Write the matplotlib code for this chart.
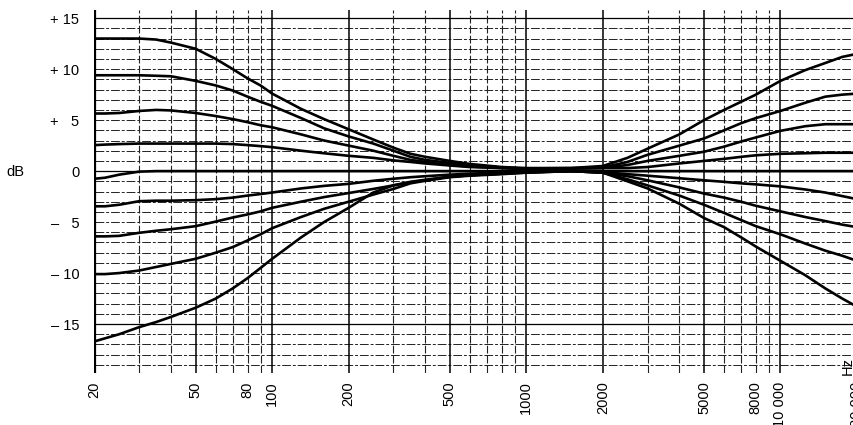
import numpy as np
import matplotlib
matplotlib.use("Agg")
import matplotlib.pyplot as plt
from matplotlib.ticker import NullLocator

plt.rcParams['font.family'] = ['Liberation Sans', 'DejaVu Sans']

# frequency points (Hz)
freq = [20, 22, 25, 30, 35, 40, 50, 60, 70, 80, 90, 100, 130, 160, 200, 250, 300, 350, 400,
        500, 600, 800, 1000, 1500, 2000, 2500, 3000, 4000, 5000, 6000, 7000, 8000, 10000,
        12500, 15000, 17500, 20000]

# level (dB) of each response curve, top to bottom at 20 Hz
bass13 = [13.0, 13.0, 13.0, 13.0, 12.9, 12.6, 12.0, 11.0, 10.0, 9.1, 8.4, 7.6, 6.1, 5.1, 4.1, 3.1,
          2.3, 1.7, 1.4, 1.0, 0.7, 0.4, 0.3, 0.3, 0.5, 1.3, 2.2, 3.6, 5.0, 6.0, 6.8, 7.5, 8.85,
          9.9, 10.6, 11.2, 11.5]
bass9 = [9.4, 9.4, 9.4, 9.4, 9.35, 9.3, 8.85, 8.4, 7.9, 7.3, 6.8, 6.4, 5.2, 4.2, 3.4, 2.7,
         2.0, 1.4, 1.1, 0.8, 0.6, 0.35, 0.25, 0.3, 0.35, 0.9, 1.6, 2.5, 3.2, 4.0, 4.7, 5.2, 5.9,
         6.7, 7.3, 7.5, 7.6]
bass6 = [5.65, 5.65, 5.7, 5.9, 6.0, 5.95, 5.7, 5.4, 5.1, 4.8, 4.5, 4.3, 3.6, 3.0, 2.5, 2.0,
         1.5, 1.1, 0.9, 0.6, 0.45, 0.3, 0.2, 0.25, 0.3, 0.6, 1.0, 1.5, 1.9, 2.4, 2.9, 3.3, 3.95,
         4.4, 4.6, 4.6, 4.6]
bass3 = [2.55, 2.6, 2.65, 2.7, 2.7, 2.7, 2.7, 2.7, 2.65, 2.55, 2.45, 2.35, 2.0, 1.75, 1.5, 1.3,
         1.05, 0.9, 0.75, 0.55, 0.4, 0.3, 0.2, 0.25, 0.3, 0.3, 0.4, 0.75, 1.0, 1.2, 1.4, 1.55, 1.7,
         1.75, 1.8, 1.8, 1.8]
flat = [-0.75, -0.65, -0.35, -0.05, 0.0, 0.0, 0.0, 0.0, 0.0, 0.0, 0.0, 0.0, 0.0, 0.0, 0.0, 0.0,
        0.0, 0.0, 0.0, 0.0, 0.0, 0.0, 0.0, 0.0, 0.0, 0.0, 0.0, 0.0, 0.0, 0.0, 0.0, 0.0, 0.0,
        0.0, 0.0, 0.0, 0.0]
cut3 = [-3.45, -3.45, -3.3, -2.95, -2.9, -2.9, -2.85, -2.75, -2.6, -2.4, -2.25, -2.1, -1.7, -1.45,
        -1.25, -0.95, -0.75, -0.6, -0.5, -0.35, -0.25, -0.15, -0.1, 0.0, -0.1, -0.3, -0.45, -0.7,
        -0.9, -1.05, -1.2, -1.3, -1.5, -1.8, -2.1, -2.45, -2.75]
cut6 = [-6.4, -6.4, -6.35, -6.05, -5.85, -5.7, -5.4, -4.95, -4.55, -4.25, -3.95, -3.6, -3.0, -2.55,
        -2.15, -1.75, -1.4, -1.05, -0.85, -0.55, -0.4, -0.25, -0.1, 0.0, -0.15, -0.5, -0.9, -1.6,
        -2.2, -2.6, -3.0, -3.4, -3.95, -4.5, -4.9, -5.25, -5.5]
cut10 = [-10.1, -10.1, -10.0, -9.75, -9.4, -9.1, -8.6, -8.0, -7.45, -6.8, -6.2, -5.6, -4.5, -3.7,
         -3.0, -2.3, -1.75, -1.2, -0.95, -0.6, -0.45, -0.3, -0.15, 0.0, -0.15, -0.8, -1.4, -2.4,
         -3.3, -4.1, -4.8, -5.4, -6.2, -7.1, -7.8, -8.3, -8.8]
cut17 = [-16.7, -16.4, -16.0, -15.3, -14.8, -14.3, -13.4, -12.5, -11.5, -10.5, -9.5, -8.6, -6.5,
         -5.0, -3.6, -2.1, -1.4, -1.1, -0.9, -0.55, -0.4, -0.25, -0.15, 0.0, -0.15, -1.0, -1.7,
         -3.2, -4.6, -5.5, -6.5, -7.4, -8.8, -10.2, -11.5, -12.5, -13.3]

curves = [bass13, bass9, bass6, bass3, flat, cut3, cut6, cut10, cut17]

xtick_vals = [20, 50, 80, 100, 200, 500, 1000, 2000, 5000, 8000, 10000, 20000]
xtick_text = ["20", "50", "80", "100", "200", "500", "1000", "2000", "5000", "8000",
              "10 000", "20 000"]
ytick_vals = [15, 10, 5, 0, -5, -10, -15]
ytick_text = ["+ 15", "+ 10", "+   5", "0", "\u2013   5", "\u2013 10", "\u2013 15"]

major_v = [20, 50, 100, 200, 500, 1000, 2000, 5000, 10000, 20000]
minor_v = [30, 40, 60, 70, 80, 90, 300, 400, 600, 700, 800, 900, 3000, 4000, 6000, 7000,
           8000, 9000]

fig = plt.figure(figsize=(8.54, 4.25), dpi=100)
ax = fig.add_axes([94.5 / 854, 1 - 373 / 425, (857 - 94.5) / 854, 363 / 425])
ax.set_xscale('log')
ax.set_xlim(20, 20000)
ax.set_ylim(-19.8, 15.8)
for s in ax.spines.values():
    s.set_visible(False)

# grid
for y in range(-19, 16):
    if y in (15, 0, -15):
        ax.hlines(y, 20, 20000, color='black', lw=0.9, zorder=1)
    else:
        ax.hlines(y, 20, 20000, color='#222222', lw=0.7, linestyles=(0, (9, 2, 3, 2)), zorder=1)
for f in major_v:
    ax.axvline(f, color='black', lw=1.1 if f != 20 else 1.6, zorder=1)
for f in minor_v:
    ax.axvline(f, color='#222222', lw=0.8, linestyle=(0, (7, 2)), zorder=1)

for c in curves:
    ax.plot(freq, c, color='black', lw=1.9, zorder=3)

ax.xaxis.set_minor_locator(NullLocator())
ax.set_xticks(xtick_vals)
ax.set_xticklabels(xtick_text, rotation=90, fontsize=10.5)
ax.set_yticks(ytick_vals)
ax.set_yticklabels(ytick_text, fontsize=10.5)
ax.tick_params(axis='x', length=0, pad=6)
ax.tick_params(axis='y', length=0, pad=11)

fig.text(15 / 854, 1 - 172 / 425, "dB", ha='center', va='center', fontsize=10.5)
fig.text(848 / 854, 1 - 366 / 425, "Hz", ha='center', va='center', rotation=90, fontsize=10.5)

fig.savefig("out.png", dpi=100)
